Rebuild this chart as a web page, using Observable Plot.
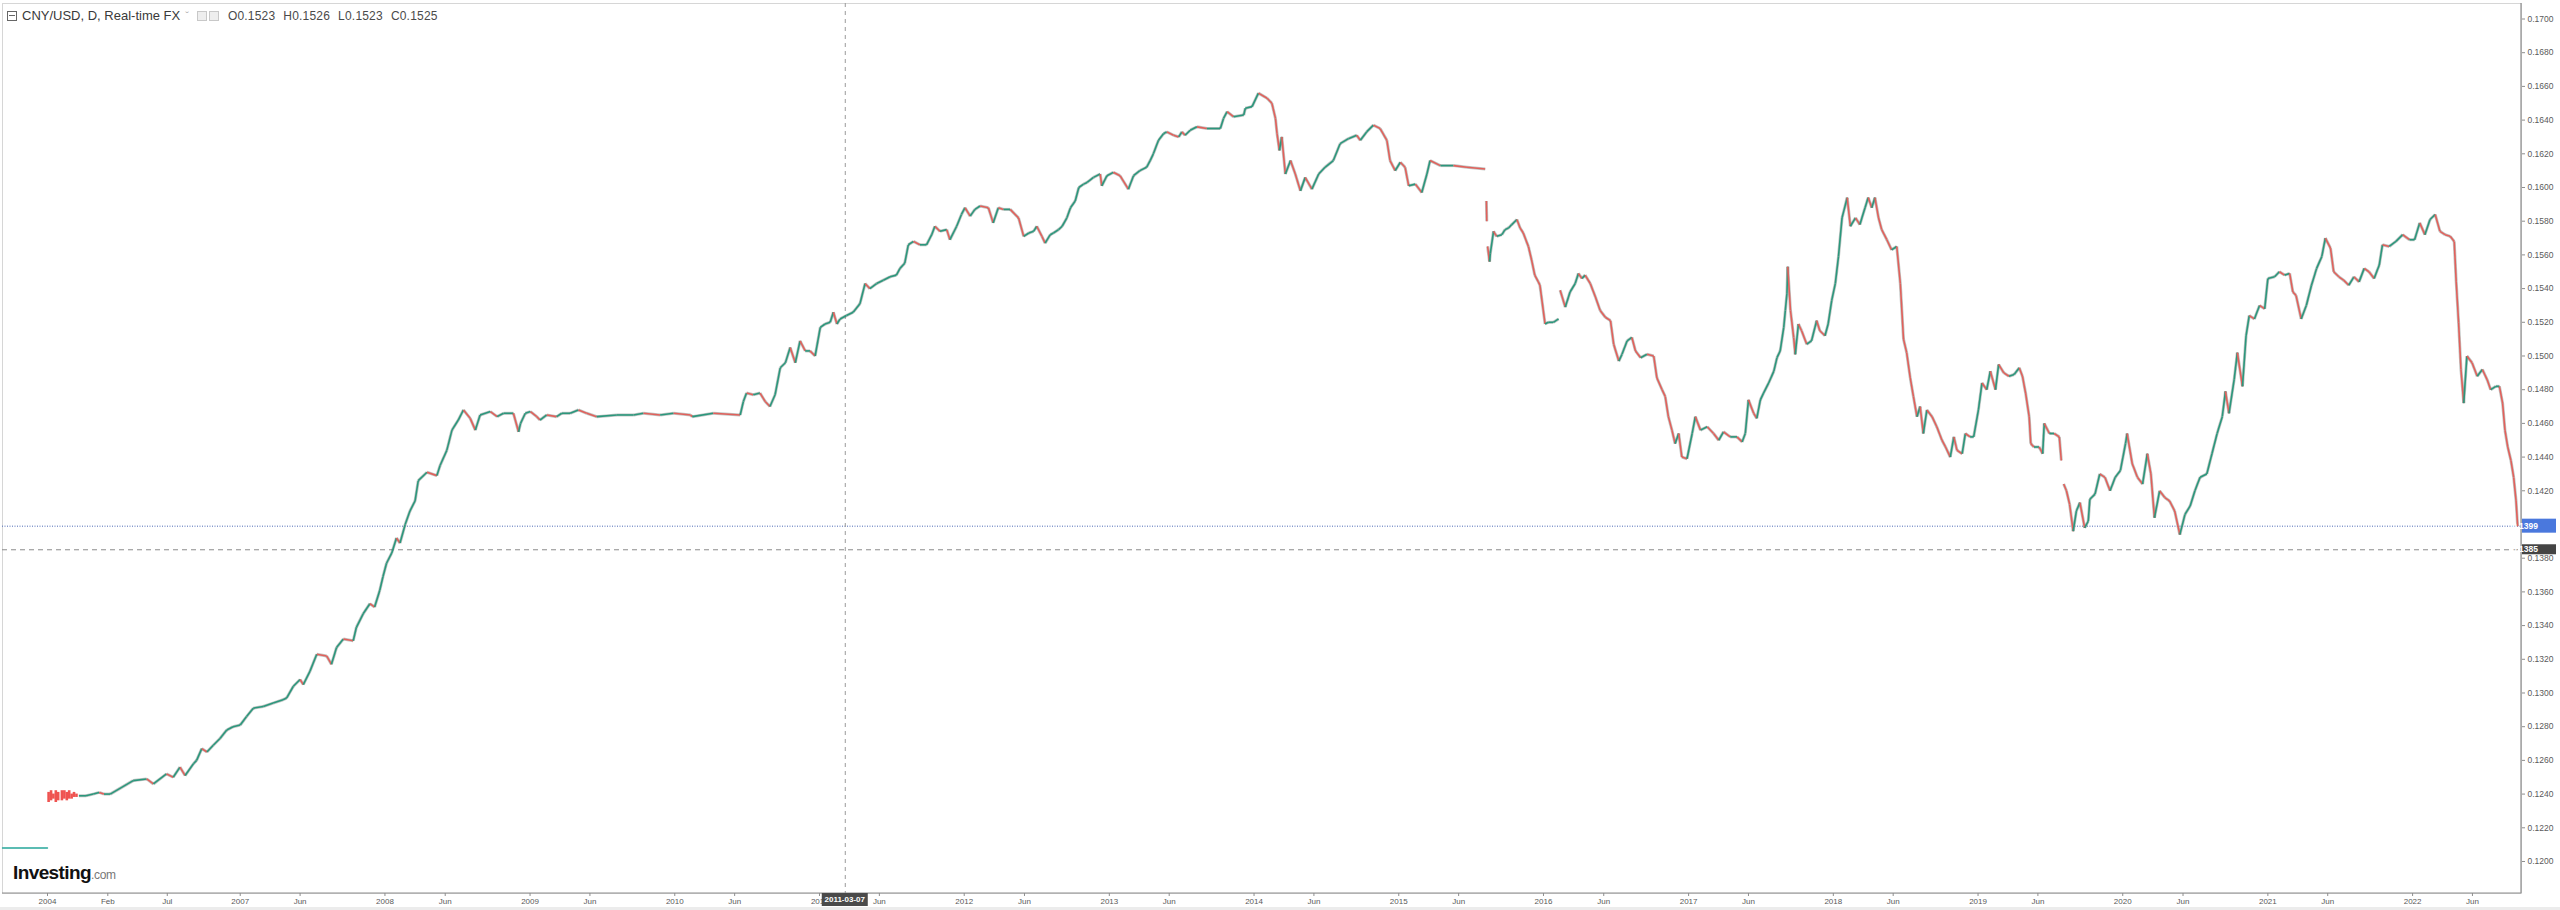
<!DOCTYPE html>
<html><head><meta charset="utf-8">
<script src="https://cdn.jsdelivr.net/npm/d3@7"></script>
<script src="https://cdn.jsdelivr.net/npm/@observablehq/plot@0.6"></script>
<style>
html,body{margin:0;padding:0;background:#fff;width:2560px;height:910px;overflow:hidden;}
#wrap{position:relative;width:2560px;height:910px;}
#legend{position:absolute;left:7px;top:8px;font-family:"Liberation Sans",Arial,sans-serif;font-size:13px;color:#3a3a3a;display:flex;align-items:center;white-space:nowrap;}
#legend .box{display:inline-block;width:8px;height:8px;border:1px solid #666;position:relative;margin-right:5px;}
#legend .box:after{content:"";position:absolute;left:1px;right:1px;top:3.5px;height:1px;background:#666;}
#legend .caret{color:#aaa;font-size:11px;margin:0 8px 0 5px;}
#legend .ico{display:inline-block;width:8px;height:8px;border:1px solid #c8c8c8;background:#eee;margin-right:2px;}
#legend .ohlc{color:#4a4a4a;font-size:12px;margin-left:7px;letter-spacing:0.2px;}
#legend .ohlc span{margin-right:8px;}
#logo{position:absolute;left:13px;top:862px;font-family:"Liberation Sans Narrow","Liberation Sans",Arial,sans-serif;}
#logo b{font-size:19px;color:#111;letter-spacing:-0.6px;font-weight:bold;}
#logo i{font-style:normal;font-size:12px;color:#777;letter-spacing:-0.3px;}
#band{position:absolute;left:0;right:0;bottom:0;height:3px;background:#ececec;}
</style></head>
<body><div id="wrap"><div id="chart"></div>
<div id="legend"><span class="box"></span><span>CNY/USD, D, Real-time FX</span><span class="caret">ˇ</span><span class="ico"></span><span class="ico"></span><span class="ohlc"><span>O0.1523</span><span>H0.1526</span><span>L0.1523</span><span>C0.1525</span></span></div>
<div id="logo"><b>Investing</b><i>.com</i></div>
<div id="band"></div></div>
<script>
// ---- data ----
const pegDates = ["2003-07-01", "2004-01-01"];
const pegValues = [0.1208, 0.1208];

const chunkDates = ["2004-01-15","2004-02-15","2004-03-15","2004-04-15","2004-05-15","2004-07-01","2004-08-01","2004-09-01","2004-10-01","2004-11-01","2004-12-01","2005-01-01"];
const chunkLow  = [0.1235,0.1236,0.1237,0.1235,0.1236,0.1236,0.1237,0.1236,0.1237,0.1237,0.1238,0.1238];
const chunkHigh = [0.1241,0.1242,0.1240,0.1242,0.1241,0.1242,0.1242,0.1241,0.1242,0.1240,0.1241,0.1240];

const dates = [
"2005-02-01","2005-05-01","2005-08-01","2005-10-15","2005-12-15","2006-02-07","2006-04-06","2006-05-10","2006-05-27","2006-06-29",
"2006-07-16","2006-08-02","2006-08-15","2006-09-05","2006-09-13","2006-09-26","2006-10-09","2006-10-25","2006-11-11","2006-11-28",
"2006-12-14","2007-01-01","2007-01-17","2007-02-03","2007-02-28","2007-03-25","2007-04-19","2007-04-28","2007-05-15","2007-06-01",
"2007-06-09","2007-06-26","2007-07-13","2007-08-07","2007-08-19","2007-09-01","2007-09-18","2007-10-13","2007-10-21","2007-11-07",
"2007-11-24","2007-12-06","2007-12-19","2007-12-27","2008-01-05","2008-01-18","2008-01-30","2008-02-08","2008-02-21","2008-03-04",
"2008-03-17","2008-03-25","2008-04-16","2008-05-11","2008-05-19","2008-06-05","2008-06-18","2008-07-04","2008-07-17","2008-08-03",
"2008-08-16","2008-08-28","2008-09-23","2008-10-10","2008-10-26","2008-11-20","2008-12-03","2008-12-08","2008-12-20","2009-01-02",
"2009-01-18","2009-01-26","2009-02-12","2009-03-09","2009-03-22","2009-04-12","2009-05-03","2009-05-24","2009-06-18","2009-08-08",
"2009-09-19","2009-10-14","2009-11-25","2009-12-29","2010-02-10","2010-02-14","2010-04-08","2010-06-15","2010-06-23","2010-07-01",
"2010-07-18","2010-08-04","2010-08-17","2010-08-29","2010-09-11","2010-09-24","2010-10-07","2010-10-19","2010-11-01","2010-11-13",
"2010-11-26","2010-12-08","2010-12-21","2011-01-03","2011-01-15","2011-01-28","2011-02-05","2011-02-14","2011-02-22","2011-03-10",
"2011-03-27","2011-04-13","2011-04-26","2011-05-08","2011-05-25","2011-06-11","2011-06-28","2011-07-14","2011-07-23","2011-08-04",
"2011-08-13","2011-08-26","2011-09-11","2011-09-28","2011-10-11","2011-10-19","2011-11-01","2011-11-18","2011-11-26","2011-12-13",
"2011-12-25","2012-01-03","2012-01-16","2012-01-28","2012-02-10","2012-03-02","2012-03-14","2012-03-27","2012-04-09","2012-04-26",
"2012-05-17","2012-05-30","2012-06-12","2012-06-24","2012-07-02","2012-07-15","2012-07-23","2012-08-05","2012-08-13","2012-08-26",
"2012-09-04","2012-09-16","2012-09-25","2012-10-07","2012-10-16","2012-10-28","2012-11-06","2012-11-22","2012-12-09","2012-12-13",
"2012-12-26","2013-01-11","2013-01-28","2013-02-18","2013-03-03","2013-03-19","2013-04-05","2013-04-14","2013-04-22","2013-05-05",
"2013-05-18","2013-05-26","2013-06-12","2013-06-25","2013-07-03","2013-07-11","2013-07-24","2013-08-10","2013-09-04","2013-10-08",
"2013-10-16","2013-10-25","2013-11-10","2013-12-06","2013-12-10","2013-12-27","2014-01-12","2014-02-03","2014-02-15","2014-02-24",
"2014-02-28","2014-03-06","2014-03-12","2014-03-21","2014-04-03","2014-04-15","2014-04-28","2014-05-10","2014-05-27","2014-06-13",
"2014-06-29","2014-07-20","2014-08-06","2014-08-27","2014-09-17","2014-09-26","2014-10-12","2014-10-29","2014-11-15","2014-12-02",
"2014-12-10","2014-12-23","2015-01-05","2015-01-17","2015-01-26","2015-02-12","2015-02-28","2015-03-13","2015-03-21","2015-04-16",
"2015-05-19","2015-06-22","2015-08-07","2015-08-08","2015-08-10","2015-08-11","2015-08-12","2015-08-13","2015-08-18","2015-08-20",
"2015-08-28","2015-09-05","2015-09-18","2015-09-26","2015-10-05","2015-10-13","2015-10-26","2015-11-03","2015-11-11","2015-11-24",
"2015-12-02","2015-12-10","2015-12-19","2015-12-23","2016-01-05","2016-01-13","2016-01-26","2016-02-08","2016-02-10","2016-02-12",
"2016-02-25","2016-03-04","2016-03-08","2016-03-21","2016-03-29","2016-04-07","2016-04-15","2016-04-28","2016-05-11","2016-05-23",
"2016-06-05","2016-06-18","2016-06-26","2016-07-09","2016-07-17","2016-07-30","2016-08-11","2016-08-20","2016-09-02","2016-09-18",
"2016-10-05","2016-10-13","2016-10-26","2016-11-03","2016-11-11","2016-11-20","2016-11-28","2016-12-07","2016-12-15","2016-12-28",
"2017-01-10","2017-01-18","2017-01-31","2017-02-17","2017-03-05","2017-03-18","2017-03-30","2017-04-16","2017-05-03","2017-05-16",
"2017-05-24","2017-06-01","2017-06-14","2017-06-22","2017-07-01","2017-07-09","2017-07-22","2017-08-04","2017-08-12","2017-08-20",
"2017-08-29","2017-09-02","2017-09-06","2017-09-08","2017-09-15","2017-09-23","2017-09-27","2017-10-05","2017-10-13","2017-10-26",
"2017-11-07","2017-11-20","2017-11-28","2017-12-11","2017-12-19","2017-12-28","2018-01-06","2018-01-14","2018-01-23","2018-02-05",
"2018-02-13","2018-02-26","2018-03-09","2018-03-22","2018-03-30","2018-04-08","2018-04-16","2018-04-25","2018-05-03","2018-05-16",
"2018-05-28","2018-06-10","2018-06-19","2018-06-27","2018-07-05","2018-07-14","2018-07-22","2018-07-31","2018-08-08","2018-08-16",
"2018-08-25","2018-09-07","2018-09-19","2018-10-02","2018-10-11","2018-10-23","2018-11-01","2018-11-09","2018-11-22","2018-11-30",
"2018-12-12","2018-12-21","2019-01-02","2019-01-11","2019-01-23","2019-02-01","2019-02-14","2019-02-22","2019-03-07","2019-03-20",
"2019-04-02","2019-04-15","2019-04-23","2019-05-01","2019-05-10","2019-05-14","2019-05-22","2019-06-04","2019-06-13","2019-06-17",
"2019-06-30","2019-07-12","2019-07-25","2019-07-30","2019-08-01","2019-08-05","2019-08-12","2019-08-20","2019-08-29","2019-09-06",
"2019-09-15","2019-09-27","2019-10-06","2019-10-10","2019-10-23","2019-11-04","2019-11-17","2019-11-30","2019-12-13","2019-12-26",
"2020-01-08","2020-01-12","2020-01-25","2020-02-07","2020-02-20","2020-03-03","2020-03-12","2020-03-21","2020-04-03","2020-04-16",
"2020-04-28","2020-05-11","2020-05-24","2020-06-06","2020-06-19","2020-07-01","2020-07-14","2020-07-31","2020-08-13","2020-08-26",
"2020-09-08","2020-09-16","2020-09-25","2020-10-08","2020-10-16","2020-10-29","2020-11-07","2020-11-15","2020-11-28","2020-12-11",
"2020-12-24","2021-01-01","2021-01-18","2021-01-30","2021-02-12","2021-02-25","2021-03-05","2021-03-13","2021-03-26","2021-04-08",
"2021-04-21","2021-05-04","2021-05-17","2021-05-26","2021-06-08","2021-06-16","2021-06-29","2021-07-11","2021-07-24","2021-08-06",
"2021-08-19","2021-09-01","2021-09-13","2021-09-26","2021-10-09","2021-10-17","2021-11-03","2021-11-20","2021-12-07","2021-12-24",
"2022-01-06","2022-01-19","2022-02-01","2022-02-14","2022-02-27","2022-03-11","2022-03-24","2022-04-06","2022-04-16","2022-04-21",
"2022-04-27","2022-05-03","2022-05-10","2022-05-18","2022-05-31","2022-06-13","2022-06-26","2022-07-08","2022-07-17","2022-07-30",
"2022-08-08","2022-08-16","2022-08-22","2022-08-29","2022-09-06","2022-09-13","2022-09-19","2022-09-23"];

const closes = [
0.1239,0.1239,0.1240,0.1241,0.1240,0.1240,0.1248,0.1249,0.1246,0.1252,
0.1250,0.1256,0.1251,0.1258,0.1260,0.1267,0.1265,0.1269,0.1273,0.1278,
0.1280,0.1281,0.1286,0.1291,0.1292,0.1294,0.1296,0.1297,0.1304,0.1308,
0.1305,0.1313,0.1323,0.1322,0.1317,0.1327,0.1332,0.1331,0.1339,0.1347,
0.1353,0.1351,0.1361,0.1369,0.1377,0.1383,0.1392,0.1389,0.1400,0.1408,
0.1414,0.1426,0.1431,0.1429,0.1435,0.1444,0.1456,0.1462,0.1468,0.1463,
0.1456,0.1465,0.1467,0.1464,0.1466,0.1466,0.1455,0.1460,0.1466,0.1467,
0.1464,0.1462,0.1465,0.1464,0.1466,0.1466,0.1468,0.1466,0.1464,0.1465,
0.1465,0.1466,0.1465,0.1466,0.1465,0.1464,0.1466,0.1465,0.1473,0.1478,
0.1477,0.1478,0.1473,0.1470,0.1477,0.1493,0.1496,0.1505,0.1496,0.1509,
0.1503,0.1503,0.1500,0.1517,0.1519,0.1520,0.1526,0.1519,0.1522,0.1524,
0.1526,0.1531,0.1543,0.1540,0.1543,0.1545,0.1547,0.1548,0.1552,0.1555,
0.1566,0.1568,0.1566,0.1566,0.1572,0.1577,0.1574,0.1575,0.1569,0.1577,
0.1584,0.1588,0.1583,0.1587,0.1589,0.1588,0.1579,0.1588,0.1587,0.1587,
0.1582,0.1571,0.1573,0.1574,0.1577,0.1571,0.1567,0.1572,0.1573,0.1575,
0.1577,0.1582,0.1588,0.1592,0.1600,0.1602,0.1603,0.1606,0.1608,0.1601,
0.1607,0.1609,0.1607,0.1599,0.1607,0.1610,0.1612,0.1616,0.1620,0.1628,
0.1632,0.1633,0.1631,0.1630,0.1633,0.1631,0.1634,0.1636,0.1635,0.1635,
0.1641,0.1645,0.1642,0.1643,0.1647,0.1648,0.1656,0.1653,0.1650,0.1641,
0.1632,0.1622,0.1630,0.1608,0.1616,0.1608,0.1598,0.1606,0.1599,0.1608,
0.1612,0.1616,0.1626,0.1629,0.1631,0.1628,0.1633,0.1637,0.1635,0.1628,
0.1616,0.1610,0.1615,0.1612,0.1601,0.1602,0.1597,0.1608,0.1616,0.1613,
0.1613,0.1612,0.1611,null,0.1592,0.1580,null,0.1565,0.1556,0.1561,
0.1574,0.1571,0.1572,0.1575,0.1576,0.1578,0.1581,0.1576,0.1573,0.1565,
0.1557,0.1548,0.1544,0.1542,0.1519,0.1520,0.1520,0.1522,null,0.1539,
0.1529,0.1535,0.1538,0.1543,0.1549,0.1546,0.1548,0.1543,0.1535,0.1527,
0.1523,0.1521,0.1507,0.1497,0.1501,0.1509,0.1511,0.1503,0.1499,0.1501,
0.1500,0.1487,0.1480,0.1476,0.1464,0.1456,0.1448,0.1454,0.1440,0.1439,
0.1454,0.1464,0.1456,0.1458,0.1454,0.1450,0.1455,0.1452,0.1452,0.1449,
0.1454,0.1474,0.1466,0.1463,0.1474,0.1478,0.1484,0.1491,0.1499,0.1503,
0.1517,0.1527,0.1537,0.1553,0.1527,0.1511,0.1501,0.1519,0.1515,0.1507,
0.1509,0.1521,0.1515,0.1512,0.1519,0.1533,0.1543,0.1559,0.1582,0.1594,
0.1577,0.1582,0.1578,0.1588,0.1594,0.1588,0.1594,0.1582,0.1575,0.1569,
0.1563,0.1565,0.1543,0.1510,0.1502,0.1487,0.1476,0.1464,0.1470,0.1454,
0.1468,0.1464,0.1458,0.1450,0.1446,0.1440,0.1452,0.1444,0.1442,0.1454,
0.1452,0.1452,0.1468,0.1484,0.1480,0.1491,0.1480,0.1495,0.1490,0.1488,
0.1489,0.1493,0.1488,0.1478,0.1464,0.1448,0.1446,0.1446,0.1442,0.1460,
0.1454,0.1454,0.1452,0.1438,null,0.1424,0.1420,0.1412,0.1396,0.1408,
0.1413,0.1398,0.1402,0.1415,0.1418,0.1430,0.1428,0.1420,0.1428,0.1432,
0.1448,0.1454,0.1436,0.1428,0.1424,0.1442,0.1430,0.1404,0.1420,0.1416,
0.1414,0.1408,0.1394,0.1406,0.1411,0.1420,0.1428,0.1430,0.1442,0.1454,
0.1464,0.1479,0.1466,0.1486,0.1502,0.1482,0.1512,0.1524,0.1522,0.1530,
0.1528,0.1546,0.1547,0.1550,0.1548,0.1549,0.1538,0.1536,0.1522,0.1530,
0.1542,0.1552,0.1559,0.1570,0.1564,0.1550,0.1547,0.1545,0.1542,0.1547,
0.1544,0.1552,0.1550,0.1546,0.1554,0.1566,0.1565,0.1568,0.1572,0.1569,
0.1569,0.1579,0.1572,0.1581,0.1584,0.1574,0.1572,0.1571,0.1568,0.1544,
0.1520,0.1492,0.1472,0.1500,0.1496,0.1488,0.1492,0.1486,0.1480,0.1482,
0.1482,0.1472,0.1456,0.1446,0.1438,0.1428,0.1414,0.1399];

const lastPrice = 0.1399;
const crossPrice = 0.1385;
const crossDate = "2011-03-07";

const xTickDates = ["2004-01-01","2006-02-01","2006-07-01","2007-01-01","2007-06-01","2008-01-01","2008-06-01","2009-01-01","2009-06-01","2010-01-01","2010-06-01","2011-01-01","2011-06-01","2012-01-01","2012-06-01","2013-01-01","2013-06-01","2014-01-01","2014-06-01","2015-01-01","2015-06-01","2016-01-01","2016-06-01","2017-01-01","2017-06-01","2018-01-01","2018-06-01","2019-01-01","2019-06-01","2020-01-01","2020-06-01","2021-01-01","2021-06-01","2022-01-01","2022-06-01"];
const xTickLabels = ["2004","Feb","Jul","2007","Jun","2008","Jun","2009","Jun","2010","Jun","2011","Jun","2012","Jun","2013","Jun","2014","Jun","2015","Jun","2016","Jun","2017","Jun","2018","Jun","2019","Jun","2020","Jun","2021","Jun","2022","Jun"];
// 0.1400 sits behind the 0.1399 price tag in the reference, so it is not listed
const yTicks = [0.1200,0.1220,0.1240,0.1260,0.1280,0.1300,0.1320,0.1340,0.1360,0.1380,0.1420,0.1440,0.1460,0.1480,0.1500,0.1520,0.1540,0.1560,0.1580,0.1600,0.1620,0.1640,0.1660,0.1680,0.1700];

// ---- build ----
const parse = d3.utcParse("%Y-%m-%d");
const UP = "#2b977c", DOWN = "#e2605b";
const rows = dates.map((d, i) => ({date: parse(d), close: closes[i]}));
const segs = [];
for (let i = 1; i < rows.length; i++) {
  const a = rows[i - 1], b = rows[i];
  if (a.close == null || b.close == null) continue;
  segs.push({x1: a.date, y1: a.close, x2: b.date, y2: b.close, up: b.close >= a.close});
}
const peg = pegDates.map((d, i) => ({date: parse(d), v: pegValues[i]}));
const chunk = chunkDates.map((d, i) => ({date: parse(d), lo: chunkLow[i], hi: chunkHigh[i]}));
const labelByTime = new Map(xTickDates.map((d, i) => [+parse(d), xTickLabels[i]]));

function priceTag(value, bg, h) {
  return (index, scales, values, dims) => {
    const yy = scales.y(value);
    const x0 = dims.width - dims.marginRight;
    const g = d3.create("svg:g");
    g.append("rect").attr("x", x0 + 1).attr("y", yy - h / 2).attr("width", 34).attr("height", h).attr("fill", bg);
    g.append("text").attr("x", x0 + 4).attr("y", yy).attr("dy", "0.35em").attr("fill", "#fff")
      .attr("font-size", 8.5).attr("font-weight", "bold").attr("font-family", "Liberation Sans, Arial").text(value.toFixed(4));
    return g.node();
  };
}
function dateTag(dateStr) {
  return (index, scales, values, dims) => {
    const xx = scales.x(parse(dateStr));
    const y0 = dims.height - dims.marginBottom;
    const g = d3.create("svg:g");
    g.append("rect").attr("x", xx - 23).attr("y", y0).attr("width", 46).attr("height", 13).attr("fill", "#4a4a4a");
    g.append("text").attr("x", xx).attr("y", y0 + 6.5).attr("dy", "0.35em").attr("text-anchor", "middle").attr("fill", "#fff")
      .attr("font-size", 8).attr("font-weight", "bold").attr("font-family", "Liberation Sans Narrow, Liberation Sans, Arial").text(dateStr);
    return g.node();
  };
}
function axisLines(index, scales, values, dims) {
  const g = d3.create("svg:g").attr("stroke", "#8e8e8e").attr("stroke-width", 1.2);
  const r = dims.width - dims.marginRight, b = dims.height - dims.marginBottom;
  g.append("line").attr("x1", dims.marginLeft).attr("x2", r).attr("y1", b).attr("y2", b);
  g.append("line").attr("x1", r).attr("x2", r).attr("y1", dims.marginTop).attr("y2", b);
  return g.node();
}

const chart = Plot.plot({
  width: 2560, height: 910,
  marginLeft: 2, marginRight: 39, marginTop: 3, marginBottom: 17,
  style: {background: "#fff", fontFamily: "Liberation Sans, Arial, sans-serif", color: "#5a5a5a", overflow: "visible"},
  x: {type: "utc", axis: null,
      domain: [parse("2003-07-01"), parse("2004-01-01"), parse("2006-02-01"), parse("2023-01-01")],
      range: [2, 47, 107.3, 2556.8]},
  y: {axis: null, domain: [0.1181, 0.17092]},
  marks: [
    Plot.frame({stroke: "#d6d6d6"}),
    Plot.ruleY([lastPrice], {stroke: "#4c68b4", strokeWidth: 1, strokeDasharray: "1,1.5"}),
    Plot.ruleY([crossPrice], {stroke: "#8a8a8a", strokeWidth: 1, strokeDasharray: "5,4"}),
    Plot.ruleX([parse(crossDate)], {stroke: "#9a9a9a", strokeWidth: 1, strokeDasharray: "4,4"}),
    Plot.line(peg, {x: "date", y: "v", stroke: "#26a69a", strokeWidth: 1.4}),
    Plot.ruleX(chunk, {x: "date", y1: "lo", y2: "hi", stroke: "#ef5350", strokeWidth: 2.6}),
    Plot.link(segs, {x1: "x1", y1: "y1", x2: "x2", y2: "y2", stroke: "#4b5a53", strokeOpacity: 0.35, strokeWidth: 3}),
    Plot.link(segs, {x1: "x1", y1: "y1", x2: "x2", y2: "y2", stroke: d => d.up ? UP : DOWN, strokeWidth: 1.6}),
    Plot.axisX({ticks: xTickDates.map(parse), tickFormat: d => labelByTime.get(+d), tickSize: 3, tickPadding: 2,
                fontSize: 8, fontFamily: "Liberation Sans Narrow, Liberation Sans, Arial", stroke: "#8e8e8e", fill: "#5a5a5a"}),
    Plot.axisY({anchor: "right", ticks: yTicks, tickFormat: d3.format(".4f"), tickSize: 3, tickPadding: 3,
                fontSize: 8.5, stroke: "#8e8e8e", fill: "#5a5a5a"}),
    axisLines,
    priceTag(lastPrice, "#4a78dd", 14),
    priceTag(crossPrice, "#444444", 10),
    dateTag(crossDate)
  ]
});
document.getElementById("chart").appendChild(chart);
</script>
</body></html>
